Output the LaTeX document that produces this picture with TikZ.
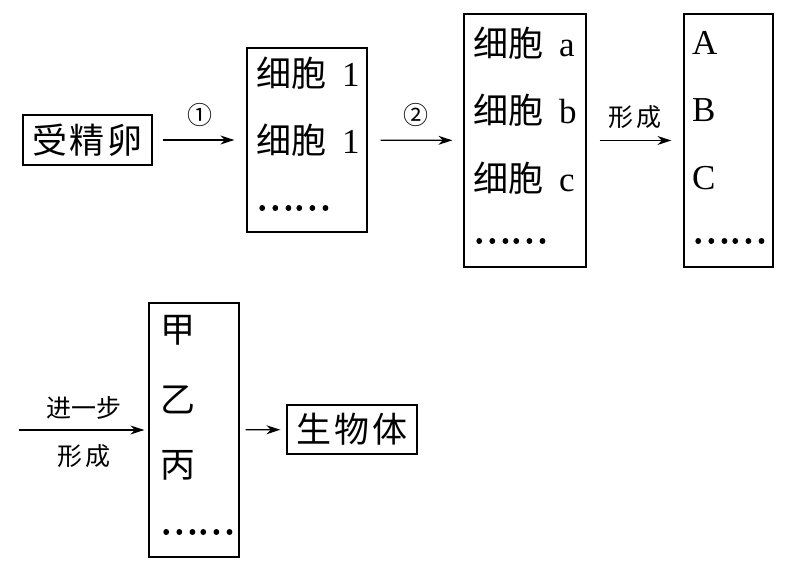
\documentclass[tikz,border=0pt]{standalone}
\usepackage{fontspec}
\setmainfont{Liberation Serif}
\newfontfamily\cjk{Noto Sans CJK SC}
\newfontfamily\cjkdots[FakeBold=3]{Noto Sans CJK SC}
\usetikzlibrary{positioning,arrows.meta}

\tikzset{
  box/.style={draw,line width=1.3pt,inner sep=0pt},
  item/.style={anchor=west,inner sep=0pt,font=\fontsize{35}{40}\selectfont\cjk},
  dots/.style={anchor=west,inner sep=0pt,font=\fontsize{35}{40}\selectfont\cjkdots},
  lab/.style={inner sep=0pt,font=\fontsize{25}{28}\selectfont\cjk},
  arr/.style={-{Stealth[length=14pt,width=9pt]},line width=1.2pt}
}
\newcommand{\gap}{\hspace{16pt}}

\begin{document}
\begin{tikzpicture}[x=1pt,y=-1pt]
    \useasboundingbox (0,0) rectangle (790,561);
    % top row
    \node[box,minimum width=129pt,minimum height=50pt,font=\fontsize{35}{40}\selectfont\cjk] (zygote) at (87.5,140) {受\hspace{3pt}精\hspace{3pt}卵};
    \node[box,minimum width=120pt,minimum height=184pt] (cells) at (307,140) {};
    \node[item] (c1) at (256,73) {细胞\gap\rmfamily 1};
    \node[item] (c2) at (256,140) {细胞\gap\rmfamily 1};
    \node[dots] (c3) at (256,208) {……};
    \node[box,minimum width=122pt,minimum height=253pt] (types) at (525,140.5) {};
    \node[item] (ta) at (473,43) {细胞\gap\rmfamily a};
    \node[item] (tb) at (473,110) {细胞\gap\rmfamily b};
    \node[item] (tc) at (473,178) {细胞\gap\rmfamily c};
    \node[dots] (td) at (473,241) {……};
    \node[box,minimum width=89pt,minimum height=253pt] (tissue) at (728.5,140.5) {};
    \node[item] (ga) at (692,43) {\rmfamily A};
    \node[item] (gb) at (692,110) {\rmfamily B};
    \node[item] (gc) at (692,178) {\rmfamily C};
    \node[dots] (gd) at (692,241) {……};
    \draw[arr,shorten <=10pt,shorten >=12pt] (zygote) -- node[lab,above=13pt] {①} (cells);
    \draw[arr,shorten <=13pt,shorten >=11pt] (cells) -- node[lab,above=13pt] {②} (types);
    \draw[arr,shorten <=13pt,shorten >=12pt] (types) -- node[lab,above=11pt] {形\hspace{3pt}成} (tissue);
    % bottom row
    \coordinate (start) at (19,430);
    \node[box,minimum width=90pt,minimum height=254pt] (organ) at (194,430) {};
    \node[item] (oa) at (160,330) {甲};
    \node[item] (ob) at (160,400) {乙};
    \node[item] (oc) at (160,465) {丙};
    \node[dots] (od) at (160,532) {……};
    \node[box,minimum width=130pt,minimum height=49pt,font=\fontsize{35}{40}\selectfont\cjk] (body) at (352,429.5) {生\hspace{3pt}物\hspace{3pt}体};
    \draw[arr,shorten >=4pt] (start) -- node[lab,above=10pt] {进一步} node[lab,below=14pt] {形\hspace{3pt}成} (organ);
    \draw[arr,shorten <=6pt,shorten >=6pt] (organ) -- (body);
\end{tikzpicture}
\end{document}
